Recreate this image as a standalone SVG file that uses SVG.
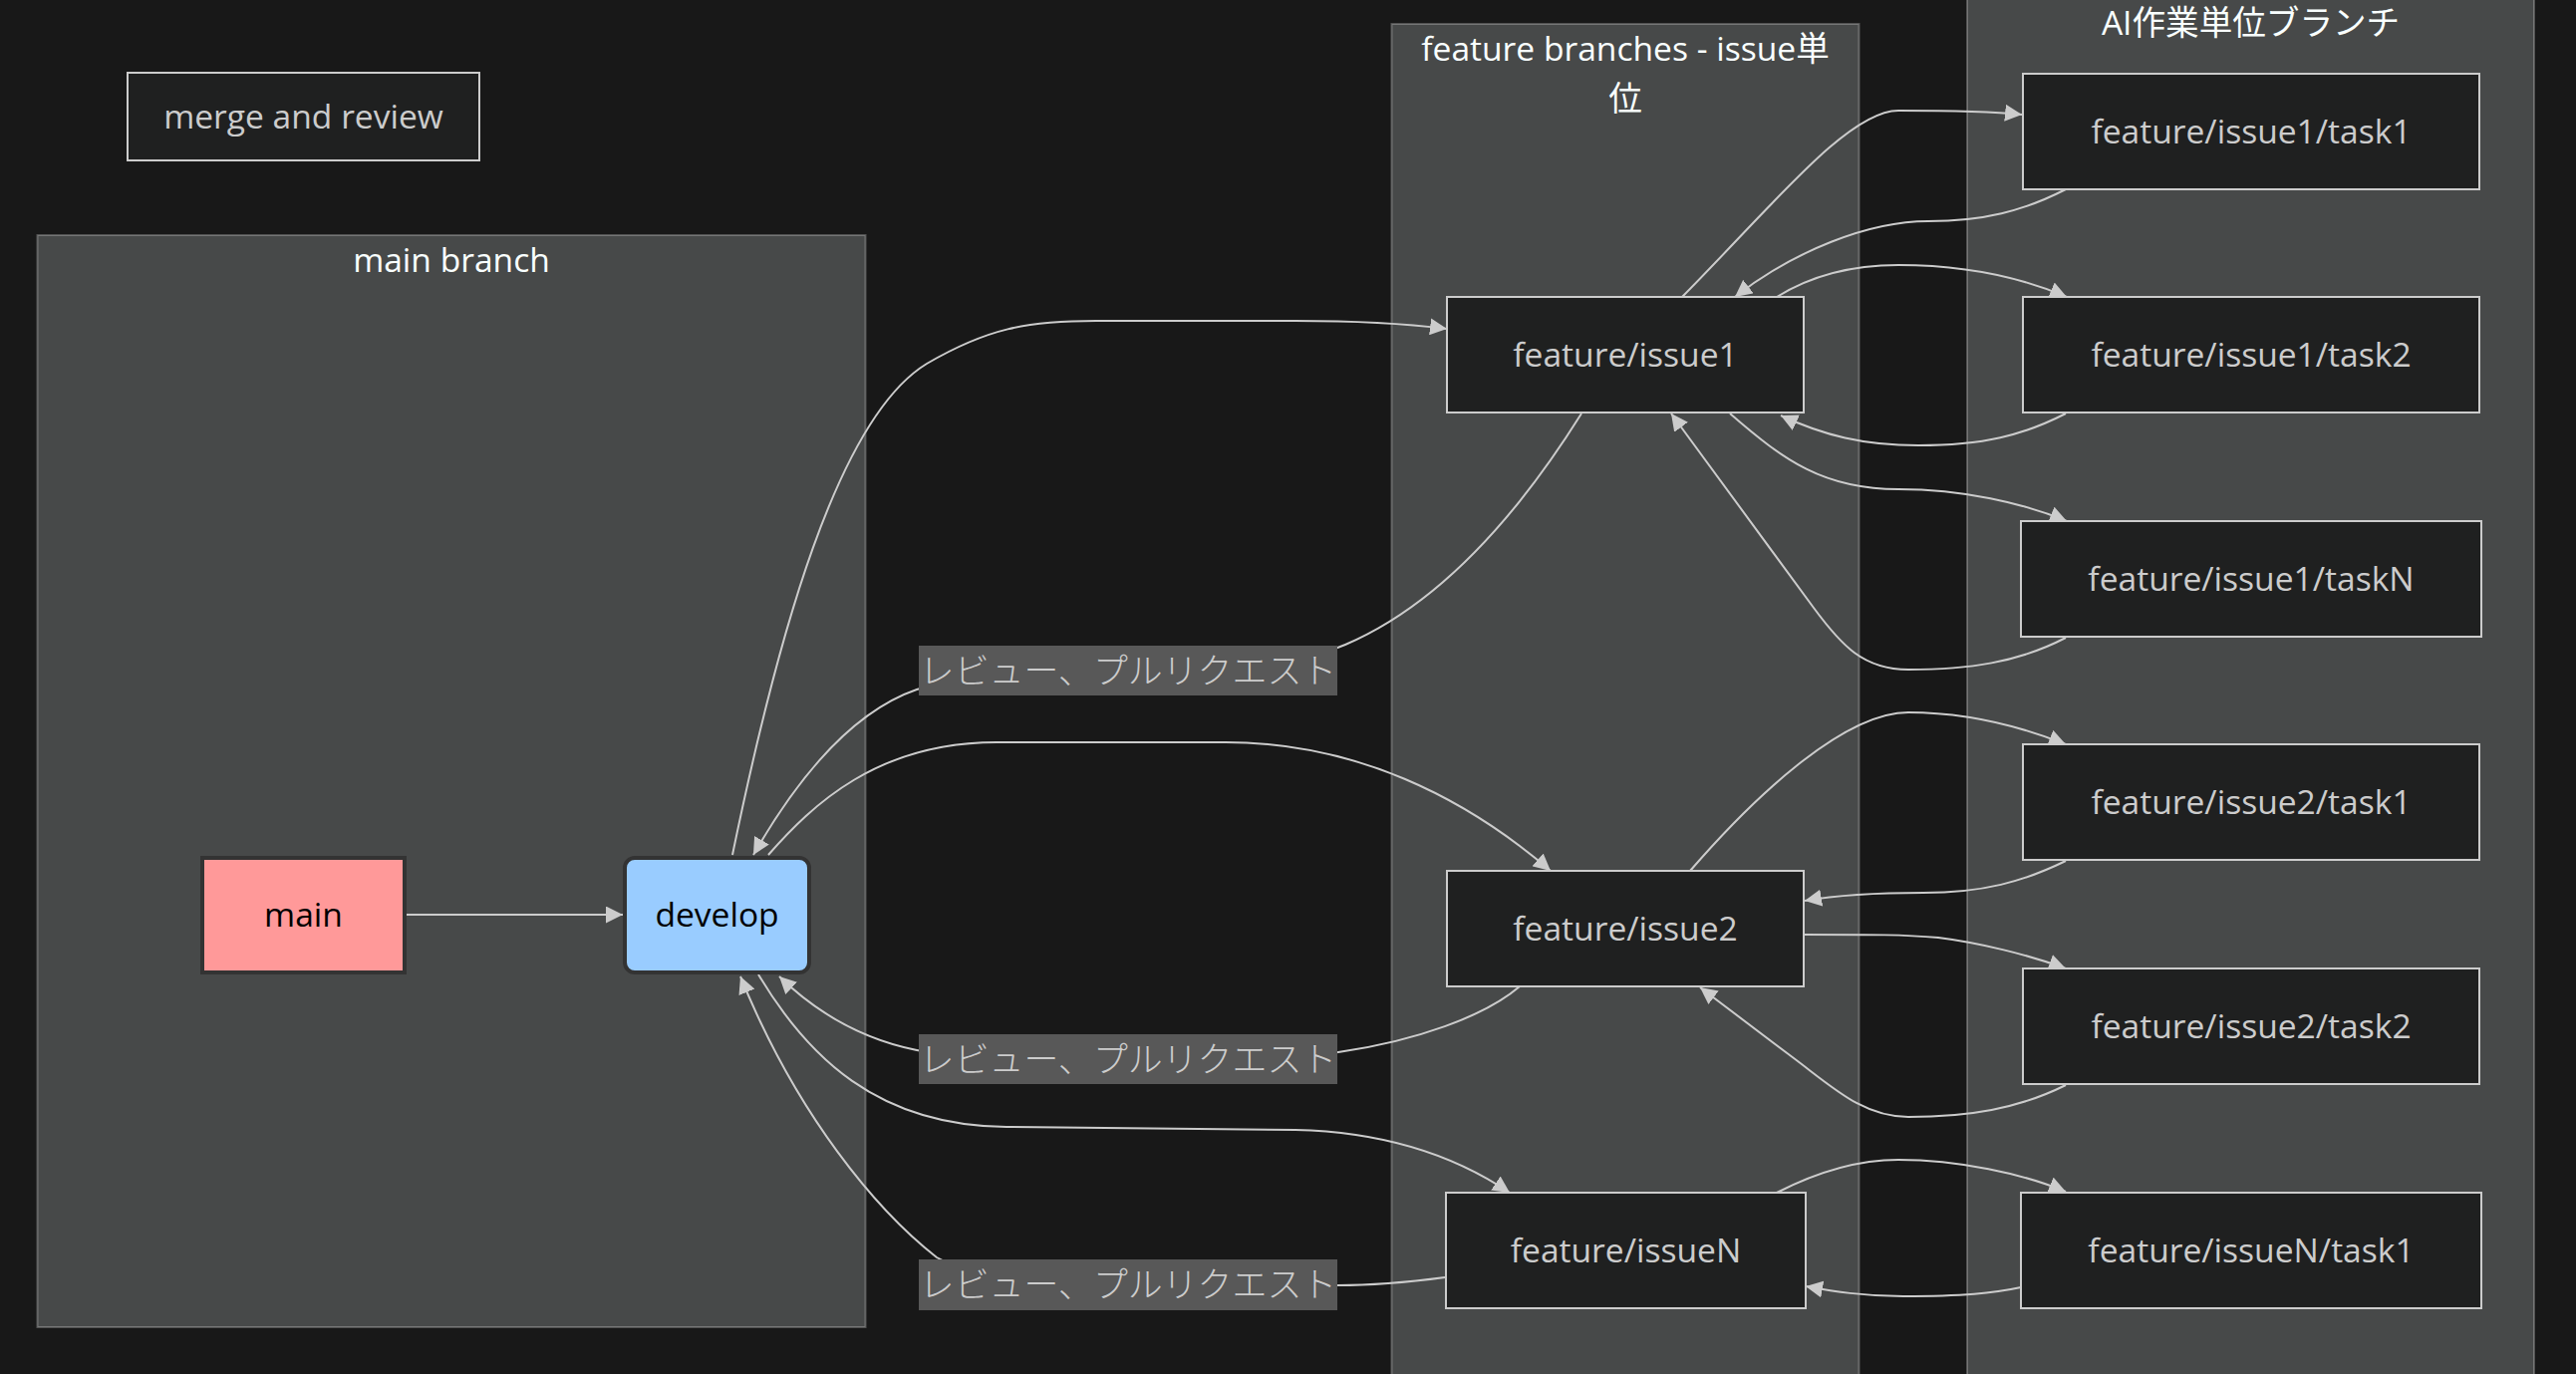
<svg xmlns="http://www.w3.org/2000/svg" width="2585" height="1379" viewBox="0 0 2585 1379">
<style>
.bg{fill:#181818}
.cluster{fill:#474949;stroke:rgba(255,255,255,0.25);stroke-width:2}
.ctitle{fill:#f9fffe;font-family:"Open Sans","Noto Sans CJK JP",sans-serif;font-size:33.6px;text-anchor:middle}
.node{fill:#1f2020;stroke:#cccccc;stroke-width:2}
.ntext{fill:#cccccc;font-family:"Open Sans","Noto Sans CJK JP",sans-serif;font-size:33.6px;text-anchor:middle}
.btext{fill:#000000;font-family:"Open Sans","Noto Sans CJK JP",sans-serif;font-size:33.6px;text-anchor:middle}
.edge{fill:none;stroke:#cccccc;stroke-width:2}
.lbg{fill:#585858}
.ltext{fill:#cccccc;font-family:"Noto Sans CJK JP",sans-serif;font-size:34.9px;font-weight:300;text-anchor:middle}
</style>
<defs>
<marker id="arrow" viewBox="0 0 10 10" refX="10" refY="5" markerWidth="17" markerHeight="17" markerUnits="userSpaceOnUse" orient="auto">
<path d="M0,0 L10,5 L0,10 z" fill="#cccccc"/>
</marker>
</defs>
<rect class="bg" x="0" y="0" width="2585" height="1379"/>

<g id="cluster-main">
<rect class="cluster" x="37.5" y="236" width="831" height="1096"/>
<text class="ctitle" x="453" y="273">main branch</text>
</g>
<g id="cluster-feature">
<rect class="cluster" x="1396.5" y="24" width="469" height="1400"/>
<text class="ctitle" x="1631" y="61">feature branches - issue単</text>
<text class="ctitle" x="1631" y="111">位</text>
</g>
<g id="cluster-ai">
<rect class="cluster" x="1974" y="-3" width="569" height="1430"/>
<text class="ctitle" x="2258.5" y="35">AI作業単位ブランチ</text>
</g>

<g id="connectors">
<path class="edge" marker-end="url(#arrow)" d="M408,918 L625,918"/>
<path class="edge" marker-end="url(#arrow)" d="M735,858 C780,640 840,420 930,365 C990,330 1030,322 1100,322 L1300,322 C1380,322 1420,326 1452,330"/>
<path class="edge" marker-end="url(#arrow)" d="M1587,415 C1540,490 1460,600 1350,647 C1300,668 1200,673 1132,673 C1060,673 970,676 920,692 C850,716 795,790 756,858"/>
<path class="edge" marker-end="url(#arrow)" d="M771,858 C815,808 880,745 1000,745 L1230,745 C1360,745 1470,800 1556,874"/>
<path class="edge" marker-end="url(#arrow)" d="M1525,990 C1490,1020 1420,1045 1343,1056 C1300,1062 1200,1063 1132,1063 C1050,1063 960,1062 920,1054 C860,1042 815,1012 782,980"/>
<path class="edge" marker-end="url(#arrow)" d="M761,978 C810,1060 880,1130 1010,1131 L1300,1134 C1390,1136 1460,1160 1515,1197"/>
<path class="edge" marker-end="url(#arrow)" d="M1450,1282 C1420,1286 1380,1290 1342,1290 L1132,1290 C1040,1290 980,1285 940,1262 C880,1215 800,1120 743,980"/>
<path class="edge" marker-end="url(#arrow)" d="M1688,298 C1780,205 1855,111 1905,111 C1960,111 2000,112 2029,115"/>
<path class="edge" marker-end="url(#arrow)" d="M2073,190 C2030,212 1990,222 1935,222 C1875,222 1800,252 1741,298"/>
<path class="edge" marker-end="url(#arrow)" d="M1783,298 C1820,275 1860,266 1905,266 C1960,266 2020,275 2074,298"/>
<path class="edge" marker-end="url(#arrow)" d="M2073,415 C2030,437 1990,447 1925,447 C1870,447 1830,437 1787,417"/>
<path class="edge" marker-end="url(#arrow)" d="M1736,415 C1790,462 1830,491 1905,491 C1970,491 2030,505 2074,523"/>
<path class="edge" marker-end="url(#arrow)" d="M2073,640 C2025,665 1975,672 1915,672 C1870,672 1848,648 1820,610 L1677,415"/>
<path class="edge" marker-end="url(#arrow)" d="M1696,874 C1760,800 1850,715 1915,715 C1975,715 2030,730 2073,747"/>
<path class="edge" marker-end="url(#arrow)" d="M2073,864 C2030,885 1990,896 1930,896 C1880,896 1840,899 1811,904"/>
<path class="edge" marker-end="url(#arrow)" d="M1811,938 C1880,938 1910,938 1945,941 C1985,946 2035,958 2073,972"/>
<path class="edge" marker-end="url(#arrow)" d="M2073,1089 C2025,1113 1975,1121 1915,1121 C1870,1121 1840,1092 1800,1062 L1706,991"/>
<path class="edge" marker-end="url(#arrow)" d="M1783,1197 C1820,1178 1860,1164 1905,1164 C1965,1164 2030,1178 2073,1196"/>
<path class="edge" marker-end="url(#arrow)" d="M2028,1292 C2000,1298 1970,1301 1910,1301 C1870,1301 1840,1296 1812,1291"/>
<g id="edge-labels">
<rect class="lbg" x="922" y="648" width="420" height="50"/>
<text class="ltext" x="1132" y="686">レビュー、プルリクエスト</text>
<rect class="lbg" x="922" y="1038" width="420" height="50"/>
<text class="ltext" x="1132" y="1076">レビュー、プルリクエスト</text>
<rect class="lbg" x="922" y="1264" width="420" height="51"/>
<text class="ltext" x="1132" y="1302">レビュー、プルリクエスト</text>
</g>
</g>

<g id="node-merge">
<rect class="node" x="128" y="73" width="353" height="88"/>
<text class="ntext" x="304.5" y="128.5">merge and review</text>
</g>
<g id="node-main">
<rect x="203" y="861" width="203" height="115" fill="#ff9999" stroke="#333333" stroke-width="4"/>
<text class="btext" x="304.5" y="930">main</text>
</g>
<g id="node-develop">
<rect x="627" y="861" width="185" height="115" rx="10" ry="10" fill="#99ccff" stroke="#333333" stroke-width="4"/>
<text class="btext" x="719.5" y="930">develop</text>
</g>
<g id="node-issue1">
<rect class="node" x="1452" y="298" width="358" height="116"/>
<text class="ntext" x="1631" y="367.5">feature/issue1</text>
</g>
<g id="node-issue2">
<rect class="node" x="1452" y="874" width="358" height="116"/>
<text class="ntext" x="1631" y="943.5">feature/issue2</text>
</g>
<g id="node-issueN">
<rect class="node" x="1451" y="1197" width="361" height="116"/>
<text class="ntext" x="1631.5" y="1266.5">feature/issueN</text>
</g>
<g id="node-issue1-task1">
<rect class="node" x="2030" y="74" width="458" height="116"/>
<text class="ntext" x="2259" y="143.5">feature/issue1/task1</text>
</g>
<g id="node-issue1-task2">
<rect class="node" x="2030" y="298" width="458" height="116"/>
<text class="ntext" x="2259" y="367.5">feature/issue1/task2</text>
</g>
<g id="node-issue1-taskN">
<rect class="node" x="2028" y="523" width="462" height="116"/>
<text class="ntext" x="2259" y="592.5">feature/issue1/taskN</text>
</g>
<g id="node-issue2-task1">
<rect class="node" x="2030" y="747" width="458" height="116"/>
<text class="ntext" x="2259" y="816.5">feature/issue2/task1</text>
</g>
<g id="node-issue2-task2">
<rect class="node" x="2030" y="972" width="458" height="116"/>
<text class="ntext" x="2259" y="1041.5">feature/issue2/task2</text>
</g>
<g id="node-issueN-task1">
<rect class="node" x="2028" y="1197" width="462" height="116"/>
<text class="ntext" x="2259" y="1266.5">feature/issueN/task1</text>
</g>
</svg>
